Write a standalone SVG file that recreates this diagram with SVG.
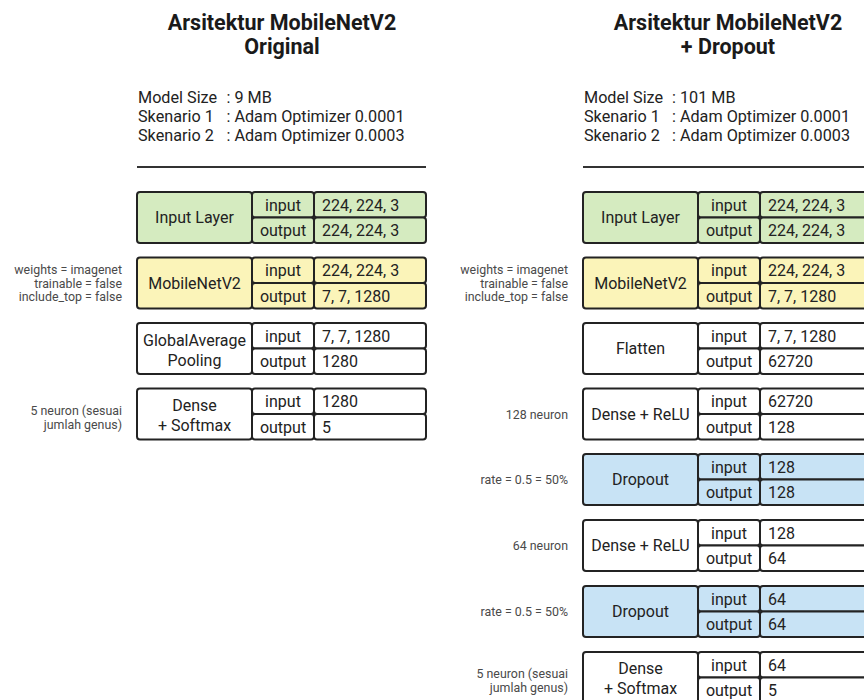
<svg xmlns="http://www.w3.org/2000/svg" width="864" height="700" viewBox="0 0 864 700">
<style>
text{font-family:Roboto,"Liberation Sans",sans-serif;fill:#222}
.t{font-size:21.5px;font-weight:bold;text-anchor:middle;fill:#1a1a1a}
.i{font-size:16.2px}
.n{font-size:16px;text-anchor:middle}
.v{font-size:16px}
.a{font-size:12.4px;text-anchor:end;fill:#4a4a4a}
.c{stroke:#232323;stroke-width:2}
.w{fill:#fff}
.g{fill:#d5ebc0}
.y{fill:#fbf4b9}
.b{fill:#c8e3f5}
.rule{stroke:#333;stroke-width:2}
</style>
<defs>
<g id="cells">
<rect class="c" x="0" y="0" width="115" height="51" rx="3"/>
<rect class="c" x="115" y="0" width="62" height="25.5" rx="3"/>
<rect class="c" x="115" y="25.5" width="62" height="25.5" rx="3"/>
<rect class="c" x="177" y="0" width="112" height="25.5" rx="3"/>
<rect class="c" x="177" y="25.5" width="112" height="25.5" rx="3"/>
</g>
</defs>

<!-- LEFT PANEL -->
<g id="left-header">
<text class="t" x="282" y="30">Arsitektur MobileNetV2</text>
<text class="t" x="282" y="54">Original</text>
<text class="i" x="138" y="103">Model Size</text><text class="i" x="226.5" y="103">: 9 MB</text>
<text class="i" x="138" y="122">Skenario 1</text><text class="i" x="226.5" y="122">: Adam Optimizer 0.0001</text>
<text class="i" x="138" y="141">Skenario 2</text><text class="i" x="226.5" y="141">: Adam Optimizer 0.0003</text>
<line class="rule" x1="137" y1="167" x2="426" y2="167"/>
</g>

<g id="left-input-layer" class="g" transform="translate(137,192)">
<use href="#cells"/>
<text class="n" x="57.5" y="31">Input Layer</text>
<text class="n" x="146" y="18.5">input</text><text class="n" x="146" y="44">output</text>
<text class="v" x="185" y="18.5">224, 224, 3</text><text class="v" x="185" y="44">224, 224, 3</text>
</g>

<g id="left-mobilenet" class="y" transform="translate(137,257.5)">
<use href="#cells"/>
<text class="n" x="57.5" y="31">MobileNetV2</text>
<text class="n" x="146" y="18.5">input</text><text class="n" x="146" y="44">output</text>
<text class="v" x="185" y="18.5">224, 224, 3</text><text class="v" x="185" y="44">7, 7, 1280</text>
</g>
<g id="left-mobilenet-note">
<text class="a" x="122" y="274">weights = imagenet</text>
<text class="a" x="122" y="287.5">trainable = false</text>
<text class="a" x="122" y="301">include_top = false</text>
</g>

<g id="left-gap" class="w" transform="translate(137,323)">
<use href="#cells"/>
<text class="n" x="57.5" y="23">GlobalAverage</text>
<text class="n" x="57.5" y="43">Pooling</text>
<text class="n" x="146" y="18.5">input</text><text class="n" x="146" y="44">output</text>
<text class="v" x="185" y="18.5">7, 7, 1280</text><text class="v" x="185" y="44">1280</text>
</g>

<g id="left-dense-softmax" class="w" transform="translate(137,388.5)">
<use href="#cells"/>
<text class="n" x="57.5" y="22">Dense</text>
<text class="n" x="57.5" y="42">+ Softmax</text>
<text class="n" x="146" y="18.5">input</text><text class="n" x="146" y="44">output</text>
<text class="v" x="185" y="18.5">1280</text><text class="v" x="185" y="44">5</text>
</g>
<g id="left-dense-note">
<text class="a" x="122" y="415">5 neuron (sesuai</text>
<text class="a" x="122" y="429">jumlah genus)</text>
</g>

<!-- RIGHT PANEL -->
<g id="right-header">
<text class="t" x="728" y="30">Arsitektur MobileNetV2</text>
<text class="t" x="728" y="54">+ Dropout</text>
<text class="i" x="584" y="103">Model Size</text><text class="i" x="672" y="103">: 101 MB</text>
<text class="i" x="584" y="122">Skenario 1</text><text class="i" x="672" y="122">: Adam Optimizer 0.0001</text>
<text class="i" x="584" y="141">Skenario 2</text><text class="i" x="672" y="141">: Adam Optimizer 0.0003</text>
<line class="rule" x1="583" y1="167" x2="872" y2="167"/>
</g>

<g id="right-input-layer" class="g" transform="translate(583,192)">
<use href="#cells"/>
<text class="n" x="57.5" y="31">Input Layer</text>
<text class="n" x="146" y="18.5">input</text><text class="n" x="146" y="44">output</text>
<text class="v" x="185" y="18.5">224, 224, 3</text><text class="v" x="185" y="44">224, 224, 3</text>
</g>

<g id="right-mobilenet" class="y" transform="translate(583,257.5)">
<use href="#cells"/>
<text class="n" x="57.5" y="31">MobileNetV2</text>
<text class="n" x="146" y="18.5">input</text><text class="n" x="146" y="44">output</text>
<text class="v" x="185" y="18.5">224, 224, 3</text><text class="v" x="185" y="44">7, 7, 1280</text>
</g>
<g id="right-mobilenet-note">
<text class="a" x="568" y="274">weights = imagenet</text>
<text class="a" x="568" y="287.5">trainable = false</text>
<text class="a" x="568" y="301">include_top = false</text>
</g>

<g id="right-flatten" class="w" transform="translate(583,323)">
<use href="#cells"/>
<text class="n" x="57.5" y="31">Flatten</text>
<text class="n" x="146" y="18.5">input</text><text class="n" x="146" y="44">output</text>
<text class="v" x="185" y="18.5">7, 7, 1280</text><text class="v" x="185" y="44">62720</text>
</g>

<g id="right-dense-relu-128" class="w" transform="translate(583,388.5)">
<use href="#cells"/>
<text class="n" x="57.5" y="31">Dense + ReLU</text>
<text class="n" x="146" y="18.5">input</text><text class="n" x="146" y="44">output</text>
<text class="v" x="185" y="18.5">62720</text><text class="v" x="185" y="44">128</text>
</g>
<text id="right-dense-128-note" class="a" x="568" y="419">128 neuron</text>

<g id="right-dropout-1" class="b" transform="translate(583,454)">
<use href="#cells"/>
<text class="n" x="57.5" y="31">Dropout</text>
<text class="n" x="146" y="18.5">input</text><text class="n" x="146" y="44">output</text>
<text class="v" x="185" y="18.5">128</text><text class="v" x="185" y="44">128</text>
</g>
<text id="right-dropout-1-note" class="a" x="568" y="484">rate = 0.5 = 50%</text>

<g id="right-dense-relu-64" class="w" transform="translate(583,520)">
<use href="#cells"/>
<text class="n" x="57.5" y="31">Dense + ReLU</text>
<text class="n" x="146" y="18.5">input</text><text class="n" x="146" y="44">output</text>
<text class="v" x="185" y="18.5">128</text><text class="v" x="185" y="44">64</text>
</g>
<text id="right-dense-64-note" class="a" x="568" y="550">64 neuron</text>

<g id="right-dropout-2" class="b" transform="translate(583,586)">
<use href="#cells"/>
<text class="n" x="57.5" y="31">Dropout</text>
<text class="n" x="146" y="18.5">input</text><text class="n" x="146" y="44">output</text>
<text class="v" x="185" y="18.5">64</text><text class="v" x="185" y="44">64</text>
</g>
<text id="right-dropout-2-note" class="a" x="568" y="616">rate = 0.5 = 50%</text>

<g id="right-dense-softmax" class="w" transform="translate(583,652)">
<use href="#cells"/>
<text class="n" x="57.5" y="22">Dense</text>
<text class="n" x="57.5" y="42">+ Softmax</text>
<text class="n" x="146" y="18.5">input</text><text class="n" x="146" y="44">output</text>
<text class="v" x="185" y="18.5">64</text><text class="v" x="185" y="44">5</text>
</g>
<g id="right-dense-softmax-note">
<text class="a" x="568" y="678">5 neuron (sesuai</text>
<text class="a" x="568" y="692">jumlah genus)</text>
</g>
</svg>
